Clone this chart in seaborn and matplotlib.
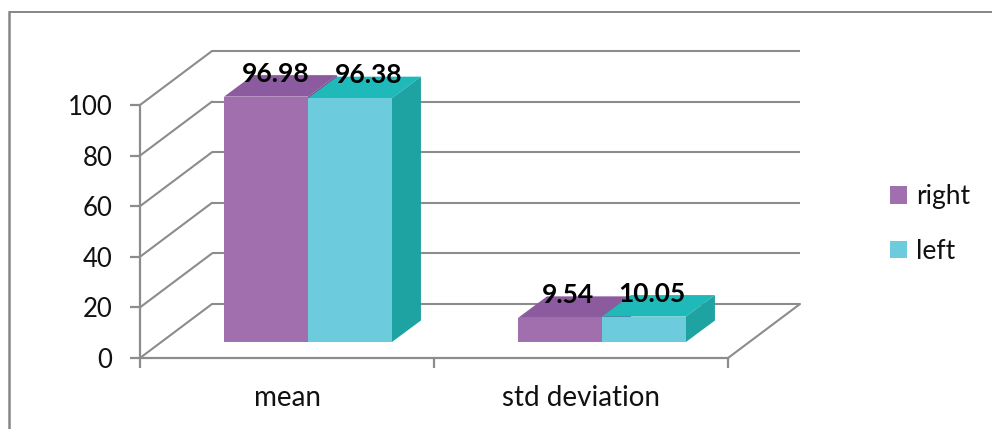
import matplotlib
matplotlib.use("Agg")
import matplotlib.pyplot as plt
import pandas as pd
import seaborn as sns
from matplotlib.lines import Line2D
from matplotlib.patches import Polygon, Rectangle
from matplotlib.transforms import Affine2D

categories = ["mean", "std deviation"]
series_names = ["right", "left"]
right_values = [96.98, 9.54]
left_values = [96.38, 10.05]
label_nudges_px = [10, 8, 19, 7.5]
y_ticks = [0, 20, 40, 60, 80, 100]

W, H = 992, 429
GREY = "#8c8c8c"
INK = "#111111"
FRONT = {"right": "#a26fae", "left": "#6ccbdc"}
TOP = {"right": "#8c5a9e", "left": "#1fb9b9"}
SIDE = {"right": "#7d4d8a", "left": "#1fa2a2"}

sns.set_theme(style="white")
plt.rcParams["font.family"] = ["Lato", "DejaVu Sans"]

df = pd.DataFrame({
    "stat": categories * 2,
    "side": [series_names[0]] * 2 + [series_names[1]] * 2,
    "value": right_values + left_values,
})

fig = plt.figure(figsize=(W / 100, H / 100), dpi=100)
ax = fig.add_axes([140 / W, (H - 358) / H, 588 / W, 253 / H])
sns.barplot(data=df, x="stat", y="value", hue="side", hue_order=series_names,
            palette=FRONT, width=0.571, gap=0, saturation=1, ax=ax, linewidth=0)
ax.set_xlim(-0.5, 1.5)
ax.set_ylim(0, 100)
ax.set_xlabel("")
ax.set_ylabel("")


def off(dx, dy):
    return ax.transData + Affine2D().translate(dx, dy)


# back wall, floor and side wall
WALL_DX, WALL_DY = 72, 54
x0, x1 = ax.get_xlim()
for t in y_ticks:
    ax.plot([x0, x1], [t, t], transform=off(WALL_DX, WALL_DY), color=GREY, lw=1.5,
            clip_on=False, zorder=0.5, solid_capstyle="butt")
    start = ax.transData.transform((x0, t))
    ax.add_line(Line2D([start[0], start[0] + WALL_DX], [start[1], start[1] + WALL_DY],
                       transform=None, color=GREY, lw=1.5, clip_on=False, zorder=0.5))
end = ax.transData.transform((x1, 0))
ax.add_line(Line2D([end[0], end[0] + WALL_DX], [end[1], end[1] + WALL_DY],
                   transform=None, color=GREY, lw=1.5, clip_on=False, zorder=0.5))

# bars: shifted into the 3D box, with top and side faces
BAR_DX, BAR_DY = 21, 16
DEPTH_DX, DEPTH_DY = 29, 21.5
patches = [p for p in ax.patches if isinstance(p, Rectangle)]
names = [series_names[0]] * 2 + [series_names[1]] * 2
values = right_values + left_values
to_px = ax.transData.transform
for i, (p, name, val) in enumerate(zip(patches, names, values)):
    x, w, h = p.get_x(), p.get_width(), p.get_height()
    p.set_transform(off(BAR_DX, BAR_DY))
    p.set_clip_on(False)
    p.set_zorder(3)
    (lx, by), (rx, ty) = to_px((x, 0)), to_px((x + w, h))
    lx, rx, by, ty = lx + BAR_DX, rx + BAR_DX, by + BAR_DY, ty + BAR_DY
    top = [(lx, ty), (rx, ty), (rx + DEPTH_DX, ty + DEPTH_DY), (lx + DEPTH_DX, ty + DEPTH_DY)]
    side = [(rx, by), (rx + DEPTH_DX, by + DEPTH_DY), (rx + DEPTH_DX, ty + DEPTH_DY), (rx, ty)]
    ax.add_patch(Polygon(top, closed=True, transform=None, facecolor=TOP[name],
                         edgecolor="none", clip_on=False, zorder=2))
    ax.add_patch(Polygon(side, closed=True, transform=None, facecolor=SIDE[name],
                         edgecolor="none", clip_on=False, zorder=2))
    ax.annotate(f"{val:.2f}", xy=(x + w / 2, h), xycoords="data",
                xytext=((label_nudges_px[i] + BAR_DX) * 0.72, (23 + BAR_DY) * 0.72),
                textcoords="offset points", ha="center", va="center",
                fontsize=19, fontweight="bold", color="black", zorder=5,
                annotation_clip=False)

# axes
sns.despine(ax=ax, top=True, right=True)
for s in ("left", "bottom"):
    ax.spines[s].set_color(GREY)
    ax.spines[s].set_linewidth(1.6)
ax.set_yticks(y_ticks)
ax.set_xticks([-0.5, 0.5, 1.5], minor=False)
ax.set_xticklabels([])
ax.set_xticks([0, 1], minor=True)
ax.set_xticklabels(categories, minor=True)
ax.tick_params(axis="x", which="major", length=7, width=1.6, color=GREY, bottom=True)
ax.tick_params(axis="x", which="minor", length=0, pad=19.5, labelsize=20, labelcolor=INK)
ax.tick_params(axis="y", length=7, width=1.6, color=GREY, left=True, pad=13,
               labelsize=18.5, labelcolor=INK)

# legend
sns.move_legend(ax, "center left", bbox_to_anchor=(890 / W, (H - 224) / H),
                bbox_transform=fig.transFigure, title=None, frameon=False,
                fontsize=19, handlelength=0.64, handleheight=0.64,
                labelspacing=1.1, handletextpad=0.34, borderpad=0, borderaxespad=0,
                labelcolor=INK)
ax.get_legend().set_zorder(6)

# chart frame: only the top and left edges are visible
fig.add_artist(Line2D([9 / W, 9 / W], [0, (H - 11.5) / H], transform=fig.transFigure,
                      color="#868686", lw=1.8, solid_capstyle="projecting"))
fig.add_artist(Line2D([9 / W, 1], [(H - 11.5) / H, (H - 11.5) / H], transform=fig.transFigure,
                      color="#868686", lw=1.4, solid_capstyle="butt"))
fig.savefig("out.png", dpi=100)
